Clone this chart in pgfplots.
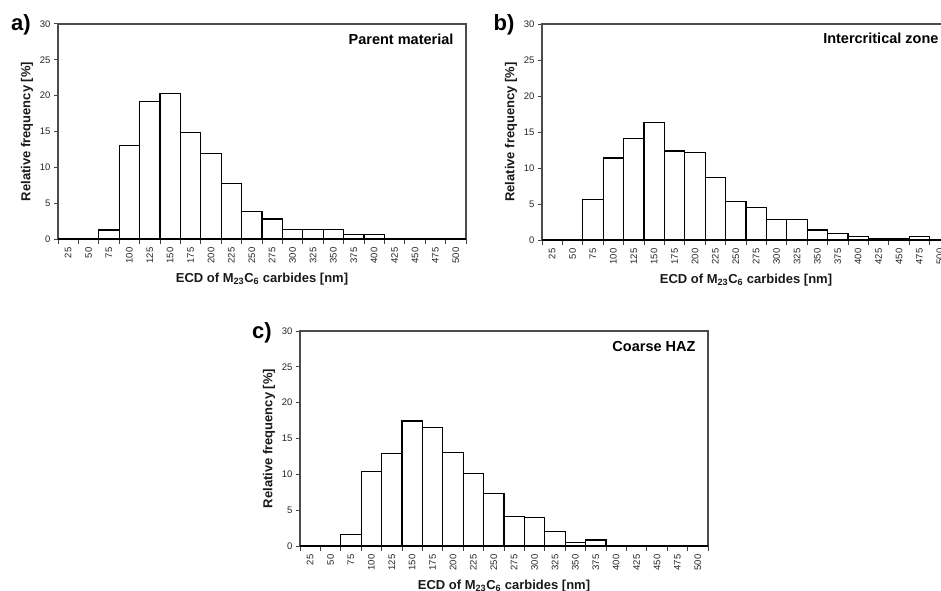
\documentclass[border=0pt]{standalone}
\usepackage{pgfplots}
\pgfplotsset{compat=1.18}
\usepackage{fontspec}
\setmainfont{Liberation Sans}
\pgfplotsset{panel/.style={
  width=408pt, height=215pt, scale only axis, anchor=south west,
  xmin=0.5, xmax=20.5, ymin=0, ymax=30,
  ytick={0,5,...,30},
  xtick={1,...,20},
  xticklabels={25,50,75,100,125,150,175,200,225,250,275,300,325,350,375,400,425,450,475,500},
  minor xtick={0.5,1.5,...,20.5},
  tick align=outside, tick pos=left,
  major tick length=4pt, minor tick length=5pt,
  major x tick style={draw=none},
  every tick/.style={black!75, line width=1pt},
  axis line style={black!70, line width=1.4pt},
  /pgf/number format/assume math mode=true,
  ticklabel style={font=\fontsize{9.5}{10}\selectfont, text=black!85},
  xticklabel style={rotate=90, anchor=east, xshift=-1pt},
  yticklabel style={anchor=east},
  xlabel={ECD of M\textsubscript{23}C\textsubscript{6} carbides [nm]},
  ylabel={Relative frequency [\%]},
  label style={font=\bfseries\fontsize{13}{14}\selectfont, text=black!90},
  xlabel style={at={([yshift=-40pt]axis description cs:0.5,0)}, anchor=center},
  ylabel style={at={([xshift=-31pt]axis description cs:0,0.5)}, anchor=center},
  clip=false,
}}
\begin{document}
\begin{tikzpicture}[x=1pt,y=1pt]
\useasboundingbox (0,0) rectangle (941,590);
\clip (0,0) rectangle (941,590);

% a) Parent material
\begin{axis}[panel, at={(58pt,351pt)}]
\addplot[ybar, bar width=1, fill=white, draw=black, line width=1.2pt] coordinates {
(1,0) (2,0) (3,1.25) (4,13.1) (5,19.2) (6,20.25) (7,14.85) (8,11.95) (9,7.7) (10,3.85)
(11,2.8) (12,1.35) (13,1.35) (14,1.35) (15,0.65) (16,0.65) (17,0) (18,0) (19,0) (20,0)};
\node[anchor=east, font=\bfseries\fontsize{14.5}{15}\selectfont, xshift=-9pt, yshift=-15pt] at (rel axis cs:1,1) {Parent material};
\node[font=\bfseries\fontsize{22}{23}\selectfont, xshift=-37pt, yshift=-1pt] at (rel axis cs:0,1) {a)};
\end{axis}

% b) Intercritical zone
\begin{axis}[panel, at={(542pt,350pt)}, height=216pt]
\addplot[ybar, bar width=1, fill=white, draw=black, line width=1.2pt] coordinates {
(1,0) (2,0) (3,5.65) (4,11.4) (5,14.1) (6,16.3) (7,12.35) (8,12.1) (9,8.65) (10,5.4)
(11,4.5) (12,2.9) (13,2.9) (14,1.4) (15,0.95) (16,0.5) (17,0.25) (18,0.25) (19,0.5) (20,0)};
\node[anchor=east, font=\bfseries\fontsize{14.5}{15}\selectfont, xshift=-8pt, yshift=-14pt] at (rel axis cs:1,1) {Intercritical zone};
\node[font=\bfseries\fontsize{22}{23}\selectfont, xshift=-38pt, yshift=-1pt] at (rel axis cs:0,1) {b)};
\end{axis}

% c) Coarse HAZ
\begin{axis}[panel, at={(300pt,44pt)}]
\addplot[ybar, bar width=1, fill=white, draw=black, line width=1.2pt] coordinates {
(1,0) (2,0) (3,1.6) (4,10.45) (5,12.9) (6,17.45) (7,16.55) (8,13.0) (9,10.1) (10,7.3)
(11,4.15) (12,3.95) (13,2.0) (14,0.45) (15,0.85) (16,0) (17,0) (18,0) (19,0) (20,0)};
\node[anchor=east, font=\bfseries\fontsize{14.5}{15}\selectfont, xshift=-9pt, yshift=-16pt] at (rel axis cs:1,1) {Coarse HAZ};
\node[font=\bfseries\fontsize{22}{23}\selectfont, xshift=-38pt, yshift=-2pt] at (rel axis cs:0,1) {c)};
\end{axis}
\end{tikzpicture}
\end{document}
